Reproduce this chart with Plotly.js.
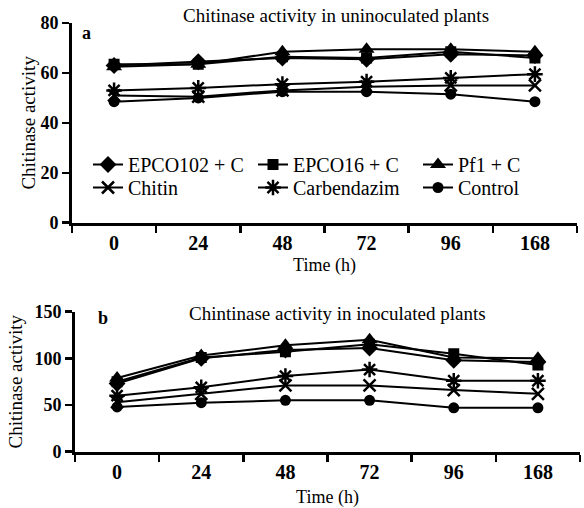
<!DOCTYPE html>
<html>
<head>
<meta charset="utf-8">
<script src="https://cdn.plot.ly/plotly-3.0.1.min.js"></script>
<style>
html,body{margin:0;padding:0;background:#fff;}
#chart{width:584px;height:508px;}
</style>
</head>
<body>
<div id="chart"></div>
<script>
// ---- data ----
const timeLabels = ["0", "24", "48", "72", "96", "168"];
const seriesNames = ["EPCO102 + C", "EPCO16 + C", "Pf1 + C", "Chitin", "Carbendazim", "Control"];

// (a) uninoculated plants
const uninocEPCO102 = [63, 64.5, 66, 65.5, 67.5, 67];
const uninocEPCO16 = [63.5, 63.5, 66.5, 66, 68.5, 66];
const uninocPf1 = [62.5, 63.5, 68.5, 69.5, 69.5, 68.5];
const uninocChitin = [51, 50.5, 53, 54.5, 55, 55];
const uninocCarbendazim = [53, 54, 55.5, 56.5, 58, 59.5];
const uninocControl = [48.5, 50, 52.5, 52.5, 51.5, 48.5];

// (b) inoculated plants
const inocEPCO102 = [73, 100, 109, 111, 98, 96];
const inocEPCO16 = [75, 101, 107, 115, 105, 93];
const inocPf1 = [79, 103, 114, 120, 101, 100];
const inocChitin = [53, 62, 71, 71, 66, 62];
const inocCarbendazim = [60, 69, 81, 88, 76, 76];
const inocControl = [48, 52.5, 55, 55, 47, 47];

// ---- styles ----
const markerSymbols = ["diamond", "square", "triangle-up", "x-thin", "asterisk", "circle"];
const markerSizes = [13, 11, 14, 12, 13, 11];
const markerLineWidths = [0, 0, 0, 2.5, 2.5, 0];
const legendRows = ["legend", "legend", "legend", "legend2", "legend2", "legend2"];

const uninocSeries = [uninocEPCO102, uninocEPCO16, uninocPf1, uninocChitin, uninocCarbendazim, uninocControl];
const inocSeries = [inocEPCO102, inocEPCO16, inocPf1, inocChitin, inocCarbendazim, inocControl];

function makeTrace(values, i, xa, ya, showLegend) {
  return {
    type: "scatter",
    mode: "lines+markers",
    name: seriesNames[i],
    x: timeLabels,
    y: values,
    xaxis: xa,
    yaxis: ya,
    showlegend: showLegend,
    legend: legendRows[i],
    line: {color: "#000", width: 2},
    marker: {
      symbol: markerSymbols[i],
      size: markerSizes[i],
      color: "#000",
      line: {color: "#000", width: markerLineWidths[i]}
    }
  };
}

const traces = [];
uninocSeries.forEach((v, i) => traces.push(makeTrace(v, i, "x", "y", true)));
inocSeries.forEach((v, i) => traces.push(makeTrace(v, i, "x2", "y2", false)));

const W = 584, H = 508;
const serif = "Liberation Serif, Times New Roman, serif";

const xCommon = {
  type: "category",
  range: [-0.5, 5.5],
  tickson: "boundaries",
  ticks: "outside",
  ticklen: 7,
  tickwidth: 2.5,
  tickcolor: "#000",
  showline: true,
  linewidth: 3,
  linecolor: "#000",
  showgrid: false,
  zeroline: false,
  fixedrange: true,
  tickfont: {family: serif, size: 20, weight: "bold", color: "#000"}
};
const yCommon = {
  ticks: "outside",
  ticklen: 7,
  tickwidth: 2.5,
  tickcolor: "#000",
  showline: true,
  linewidth: 3,
  linecolor: "#000",
  showgrid: false,
  zeroline: false,
  fixedrange: true,
  tickfont: {family: serif, size: 18, weight: "bold", color: "#000"}
};

const legendCommon = {
  orientation: "h",
  xanchor: "left",
  yanchor: "top",
  entrywidth: 120,
  entrywidthmode: "pixels",
  traceorder: "normal",
  bgcolor: "rgba(0,0,0,0)",
  borderwidth: 0,
  font: {family: serif, size: 20, color: "#000"}
};

const layout = {
  width: W,
  height: H,
  margin: {l: 0, r: 0, t: 0, b: 0},
  paper_bgcolor: "#fff",
  plot_bgcolor: "#fff",
  font: {family: serif, color: "#000"},
  title: {
    text: "Chitinase activity in uninoculated plants",
    x: 336 / W, xanchor: "center",
    y: 1 - 15 / H, yanchor: "middle",
    font: {family: serif, size: 19, color: "#000"}
  },
  xaxis: Object.assign({}, xCommon, {
    domain: [72 / W, 577 / W],
    anchor: "y",
    title: {text: "Time (h)", font: {family: serif, size: 18, color: "#000"}, standoff: 6}
  }),
  yaxis: Object.assign({}, yCommon, {
    domain: [1 - 222.7 / H, 1 - 23 / H],
    anchor: "x",
    range: [0, 80],
    dtick: 20,
    title: {text: "Chitinase activity", font: {family: serif, size: 19, color: "#000"}, standoff: 0}
  }),
  xaxis2: Object.assign({}, xCommon, {
    domain: [75 / W, 580 / W],
    anchor: "y2",
    title: {text: "Time (h)", font: {family: serif, size: 18, color: "#000"}, standoff: 9}
  }),
  yaxis2: Object.assign({}, yCommon, {
    domain: [1 - 451.7 / H, 1 - 311.7 / H],
    anchor: "x2",
    range: [0, 150],
    dtick: 50,
    title: {text: "Chitinase activity", font: {family: serif, size: 19, color: "#000"}, standoff: 7}
  }),
  legend: Object.assign({}, legendCommon, {x: 88 / W, y: 1 - 145 / H}),
  legend2: Object.assign({}, legendCommon, {x: 88 / W, y: 1 - 168 / H}),
  annotations: [
    {text: "<b>a</b>", xref: "paper", yref: "paper", x: 86 / W, y: 1 - 33 / H,
     xanchor: "center", yanchor: "middle", showarrow: false,
     font: {family: serif, size: 18, color: "#000"}},
    {text: "<b>b</b>", xref: "paper", yref: "paper", x: 103 / W, y: 1 - 318 / H,
     xanchor: "center", yanchor: "middle", showarrow: false,
     font: {family: serif, size: 18, color: "#000"}},
    {text: "Chintinase activity in inoculated plants", xref: "paper", yref: "paper",
     x: 337 / W, y: 1 - 313 / H, xanchor: "center", yanchor: "middle", showarrow: false,
     font: {family: serif, size: 19, color: "#000"}}
  ]
};

Plotly.newPlot("chart", traces, layout, {staticPlot: true, displayModeBar: false});
</script>
</body>
</html>
